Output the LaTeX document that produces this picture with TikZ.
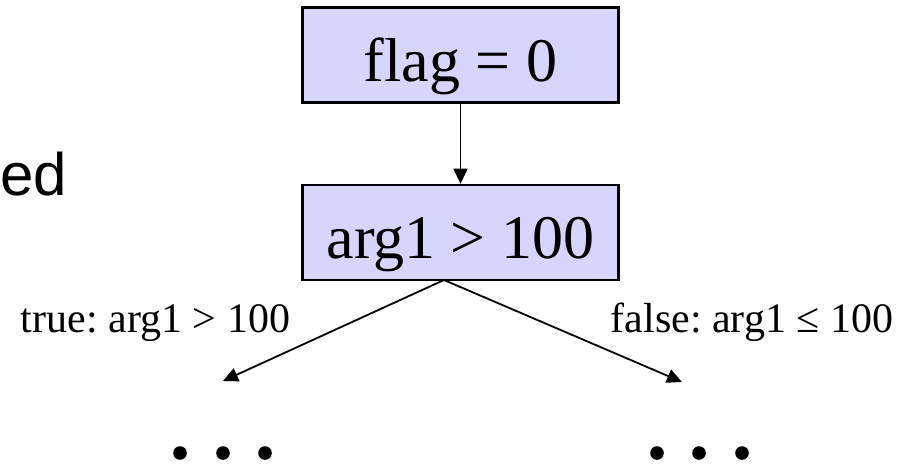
\documentclass[tikz,border=0pt]{standalone}
\usepackage{fontspec}
\setmainfont{Liberation Serif}
\newfontfamily\slidefont{Liberation Sans}
\usetikzlibrary{arrows.meta,positioning}
\definecolor{boxblue}{RGB}{214,214,252}
\tikzstyle{blueblock}=[rectangle, draw, line width=2.4pt, fill=boxblue, align=center, minimum width=316pt, minimum height=95pt, text height=62pt, text depth=10pt, inner sep=0pt, font=\fontsize{62}{70}\selectfont]
\tikzstyle{branch}=[-{Triangle[length=15pt,width=14pt]}, line width=1.8pt]
\tikzstyle{caselabel}=[anchor=base, inner sep=0pt, font=\fontsize{42}{48}\selectfont]
\frenchspacing

\begin{document}
\begin{tikzpicture}[x=1pt,y=-1pt]
\useasboundingbox (0,0) rectangle (912,464);

\node[anchor=base west, inner sep=0pt, font=\slidefont\fontsize{60}{70}\selectfont] (word) at (0,195) {ed};

\node[blueblock] (init) at (460.5,55) {flag = 0};
\node[blueblock, below=80pt of init] (cond) {arg1 > 100};

\coordinate (fork) at (444,280);
\coordinate (truetip) at (223,381);
\coordinate (falsetip) at (682,382);

\node[caselabel] (truelbl) at (155.5,332) {true: arg1 > 100};
\node[caselabel] (falselbl) at (752,332) {false: arg1 ≤ 100};

\draw[branch] (init.south) -- (cond.north);
\draw[branch] (fork) -- (truetip);
\draw[branch] (fork) -- (falsetip);

% more cases follow
\foreach \x in {180,223,265,657,699,742}
  \fill (\x,453) circle (6.8pt);

\end{tikzpicture}
\end{document}
